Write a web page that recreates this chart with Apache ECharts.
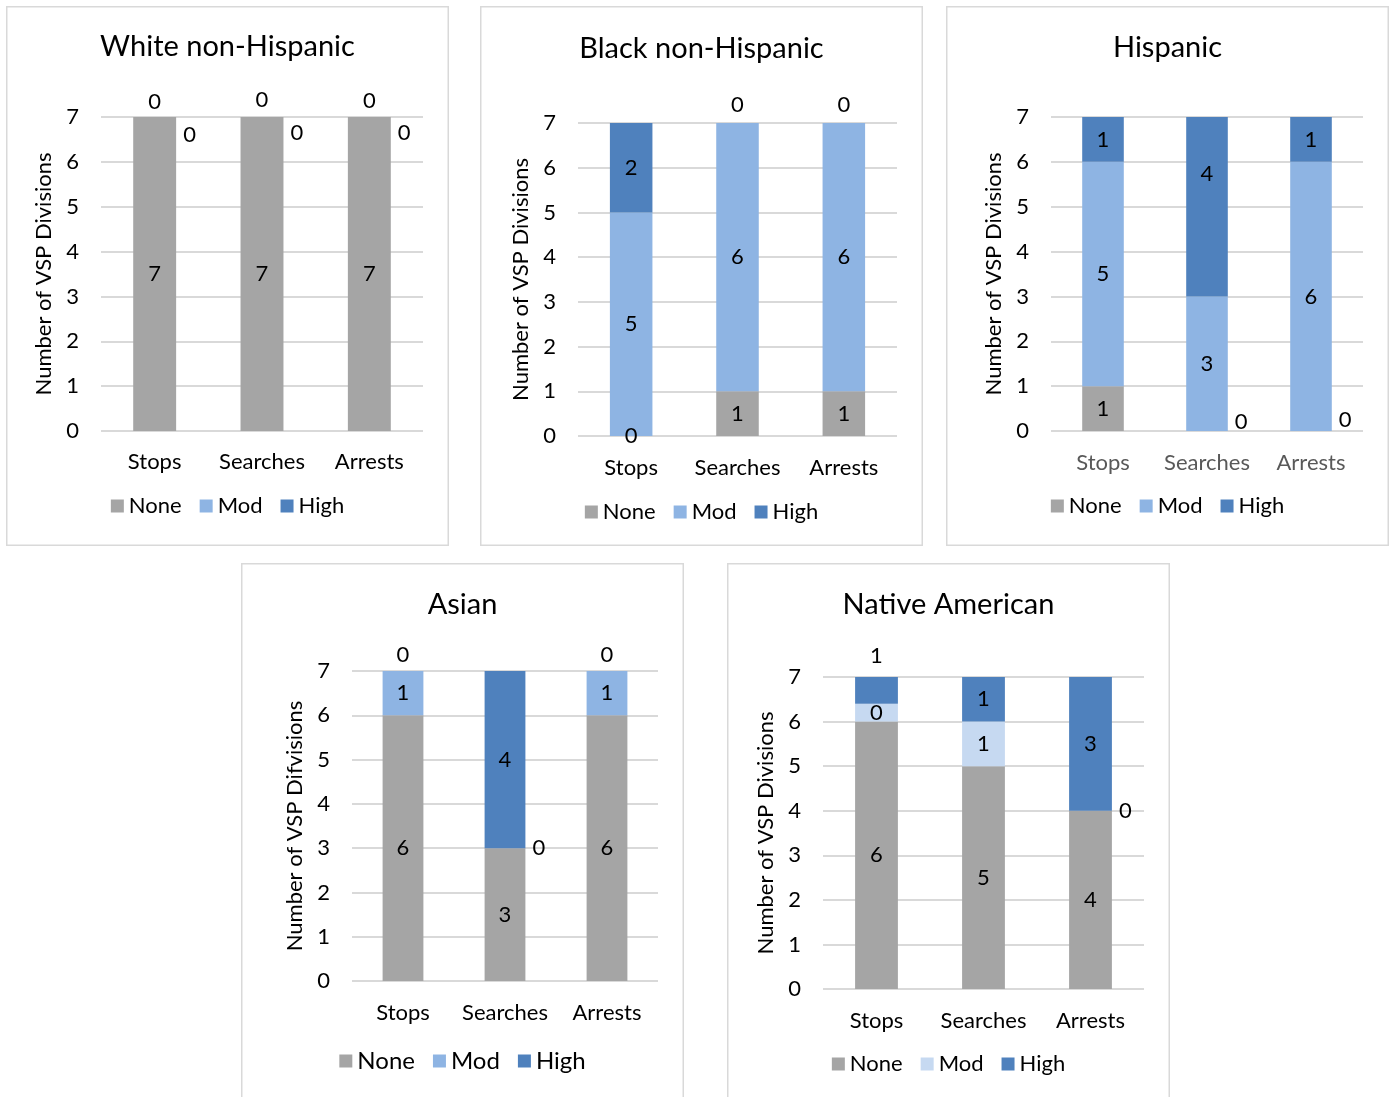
<!DOCTYPE html>
<html>
<head>
<meta charset="utf-8">
<title>VSP Divisions by Race/Ethnicity</title>
<script src="https://cdn.jsdelivr.net/npm/echarts@6/dist/echarts.min.js"></script>
<style>
  html, body { margin: 0; padding: 0; background: #ffffff; }
  body { position: relative; width: 1393px; height: 1097px; overflow: hidden; }
  .panel { position: absolute; }
</style>
</head>
<body>
<div id="p1" class="panel" style="left:6px;top:6px;width:443px;height:540px"></div>
<div id="p2" class="panel" style="left:480px;top:6px;width:443px;height:540px"></div>
<div id="p3" class="panel" style="left:946px;top:6px;width:443px;height:540px"></div>
<div id="p4" class="panel" style="left:241px;top:563px;width:443px;height:540px"></div>
<div id="p5" class="panel" style="left:727px;top:563px;width:443px;height:540px"></div>
<script>
// Categories and disparity levels shared by every panel
const categories = ['Stops', 'Searches', 'Arrests'];
const levels = ['None', 'Mod', 'High'];
const yTicks = [0, 1, 2, 3, 4, 5, 6, 7];

// Number of VSP divisions per disparity level
const whiteNone = [7, 7, 7];
const whiteMod = [0, 0, 0];
const whiteHigh = [0, 0, 0];

const blackNone = [0, 1, 1];
const blackMod = [5, 6, 6];
const blackHigh = [2, 0, 0];

const hispanicNone = [1, 0, 0];
const hispanicMod = [5, 3, 6];
const hispanicHigh = [1, 4, 1];

const asianNone = [6, 3, 6];
const asianMod = [1, 0, 1];
const asianHigh = [0, 4, 0];

const nativeNone = [6, 5, 4];
const nativeMod = [0.4, 1, 0];
const nativeHigh = [0.6, 1, 3];

const FONT = 'Lato, "Open Sans", sans-serif';
const LABEL_SIZE = 22;
const TITLE_SIZE = 29;
const COLORS = { None: '#a5a5a5', Mod: '#8eb4e3', High: '#4f81bd' };

// Per-panel layout and label placement for the small / zero segments
const panels = [
  {
    el: 'p1', title: 'White non-Hispanic', yName: 'Number of VSP Divisions',
    values: { None: whiteNone, Mod: whiteMod, High: whiteHigh },
    grid: { left: 95, top: 111, width: 322, height: 314 },
    titleTop: 26, legendTop: 489, catMargin: 20,
    place: { Mod: [['top', 4], ['top', 6], ['top', 5]], High: [['right', 18], ['right', 16], ['right', 16]] }
  },
  {
    el: 'p2', title: 'Black non-Hispanic', yName: 'Number of VSP Divisions',
    values: { None: blackNone, Mod: blackMod, High: blackHigh },
    grid: { left: 98, top: 117, width: 319, height: 313 },
    titleTop: 28, legendTop: 495, catMargin: 21,
    place: { High: [null, ['top', 7], ['top', 7]] }
  },
  {
    el: 'p3', title: 'Hispanic', yName: 'Number of VSP Divisions',
    values: { None: hispanicNone, Mod: hispanicMod, High: hispanicHigh },
    grid: { left: 105, top: 111, width: 312, height: 314 },
    titleTop: 27, legendTop: 489, catMargin: 21, catColor: '#595959',
    place: { None: [null, ['right', -9], ['right', -11]], High: [null, ['inside', -33], null] }
  },
  {
    el: 'p4', title: 'Asian', yName: 'Number of VSP Difvisions',
    values: { None: asianNone, Mod: asianMod, High: asianHigh },
    grid: { left: 111, top: 108, width: 306, height: 310 },
    titleTop: 27, legendTop: 486, catMargin: 21, legendSize: 24,
    place: { Mod: [null, ['right', 0], null], High: [['top', 5], null, ['top', 5]] }
  },
  {
    el: 'p5', title: 'Native American', yName: 'Number of VSP Divisions',
    values: { None: nativeNone, Mod: nativeMod, High: nativeHigh },
    grid: { left: 96, top: 114, width: 321, height: 312 },
    titleTop: 27, legendTop: 490, catMargin: 21, modColor: '#c6d9f1',
    place: { Mod: [null, null, ['right', 0]], High: [['top', 10], null, null] }
  }
];

function placeLabel(spec) {
  if (spec[0] === 'top') return { position: 'top', distance: spec[1] };
  if (spec[0] === 'right') return { position: 'right', distance: 7, offset: [0, spec[1]] };
  return { position: 'inside', offset: [0, spec[1] || 0] };
}

function buildOption(p) {
  const series = levels.map(function (lv) {
    const color = (lv === 'Mod' && p.modColor) ? p.modColor : COLORS[lv];
    const specs = (p.place && p.place[lv]) || [];
    return {
      name: lv,
      type: 'bar',
      stack: 'total',
      barCategoryGap: '60%',
      itemStyle: { color: color },
      emphasis: { disabled: true },
      label: {
        show: true, position: 'inside', color: '#000000',
        fontFamily: FONT, fontSize: LABEL_SIZE,
        formatter: function (prm) { return String(Math.round(prm.value)); }
      },
      data: p.values[lv].map(function (v, i) {
        return specs[i] ? { value: v, label: placeLabel(specs[i]) } : v;
      })
    };
  });

  return {
    animation: false,
    textStyle: { fontFamily: FONT },
    title: {
      text: p.title, left: 'center', top: p.titleTop, padding: 0,
      textStyle: { fontFamily: FONT, fontSize: TITLE_SIZE, fontWeight: 'normal', color: '#000000' }
    },
    legend: {
      data: levels, left: 'center', top: p.legendTop, padding: 0,
      icon: 'rect', itemWidth: 13, itemHeight: 13, itemGap: 18,
      selectedMode: false,
      textStyle: { fontFamily: FONT, fontSize: p.legendSize || LABEL_SIZE, color: '#000000' }
    },
    grid: Object.assign({ containLabel: false }, p.grid),
    xAxis: {
      type: 'category', data: categories,
      axisLine: { show: false }, axisTick: { show: false },
      axisLabel: {
        interval: 0, margin: p.catMargin, fontFamily: FONT, fontSize: LABEL_SIZE,
        color: p.catColor || '#000000'
      }
    },
    yAxis: {
      type: 'value', min: yTicks[0], max: yTicks[yTicks.length - 1], interval: 1,
      name: p.yName, nameLocation: 'middle', nameGap: 45,
      nameTextStyle: { fontFamily: FONT, fontSize: LABEL_SIZE, color: '#000000' },
      axisLine: { show: false }, axisTick: { show: false },
      axisLabel: { margin: 22, fontFamily: FONT, fontSize: LABEL_SIZE, color: '#000000' },
      splitLine: { lineStyle: { color: '#d9d9d9', width: 2 } }
    },
    graphic: [{
      type: 'rect', silent: true, z: -1,
      shape: { x: 0.75, y: 0.75, width: 441.5, height: 538.5 },
      style: { fill: null, stroke: '#d9d9d9', lineWidth: 1.5 }
    }],
    series: series
  };
}

panels.forEach(function (p) {
  const chart = echarts.init(document.getElementById(p.el), null, { renderer: 'canvas' });
  chart.setOption(buildOption(p));
});
</script>
</body>
</html>
